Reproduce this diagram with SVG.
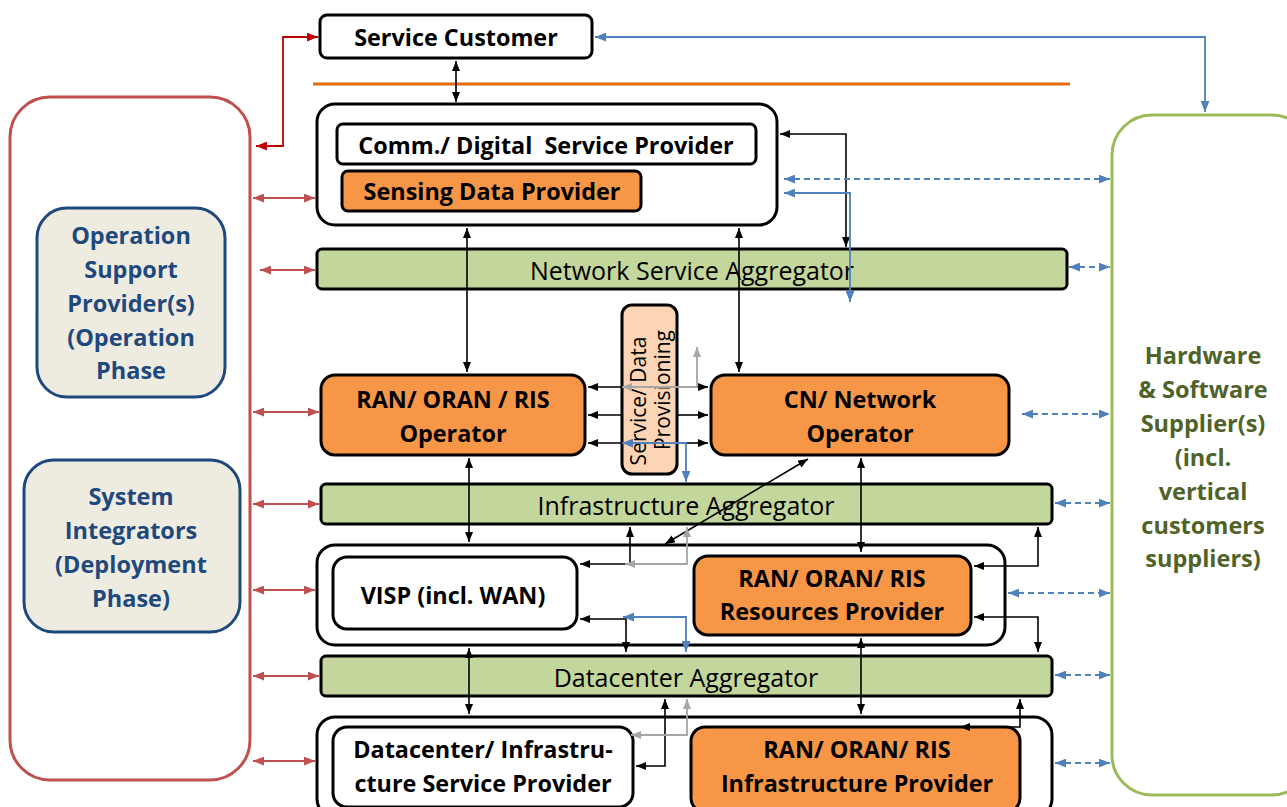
<svg xmlns="http://www.w3.org/2000/svg" width="1287" height="807" viewBox="0 0 1287 807">
  <defs>
    <marker id="ah-black" viewBox="0 0 10 8" refX="10" refY="4" markerWidth="10" markerHeight="8" markerUnits="userSpaceOnUse" orient="auto-start-reverse">
      <path d="M0,0 L10,4 L0,8 z" fill="#000"/>
    </marker>
    <marker id="ah-grey" viewBox="0 0 10 8" refX="10" refY="4" markerWidth="10" markerHeight="8" markerUnits="userSpaceOnUse" orient="auto-start-reverse">
      <path d="M0,0 L10,4 L0,8 z" fill="#A6A6A6"/>
    </marker>
    <marker id="ah-blue" viewBox="0 0 10 8" refX="10" refY="4" markerWidth="11" markerHeight="9" markerUnits="userSpaceOnUse" orient="auto-start-reverse">
      <path d="M0,0 L10,4 L0,8 z" fill="#4F81BD"/>
    </marker>
    <marker id="ah-red" viewBox="0 0 10 8" refX="10" refY="4" markerWidth="11" markerHeight="9" markerUnits="userSpaceOnUse" orient="auto-start-reverse">
      <path d="M0,0 L10,4 L0,8 z" fill="#C0504D"/>
    </marker>
    <marker id="ah-dred" viewBox="0 0 10 8" refX="10" refY="4" markerWidth="11" markerHeight="9" markerUnits="userSpaceOnUse" orient="auto-start-reverse">
      <path d="M0,0 L10,4 L0,8 z" fill="#C00000"/>
    </marker>
  </defs>
  <style>
    .box { stroke: #000; stroke-width: 3; }
    .white { fill: #fff; }
    .orange { fill: #F79646; }
    .agg { fill: #C3D69B; }
    .prov { fill: #FBD5B5; }
    .lbl { font-family: "Open Sans", Lato, sans-serif; font-weight: 700; font-size: 23.4px; fill: #000; text-anchor: middle; dominant-baseline: central; }
    .reg { font-family: "Open Sans", sans-serif; font-weight: 400; font-size: 25px; fill: #000; text-anchor: middle; dominant-baseline: central; }
    .side { font-family: "Open Sans", Lato, sans-serif; font-weight: 700; font-size: 23.5px; text-anchor: middle; dominant-baseline: central; }
    .vert { font-family: "Open Sans", sans-serif; font-weight: 400; font-size: 21px; fill: #000; text-anchor: middle; }
    .c-black { fill: none; stroke: #000; stroke-width: 1.6; marker-start: url(#ah-black); marker-end: url(#ah-black); }
    .c-grey { fill: none; stroke: #A6A6A6; stroke-width: 1.8; marker-start: url(#ah-grey); marker-end: url(#ah-grey); }
    .c-blue { fill: none; stroke: #4F81BD; stroke-width: 1.8; marker-start: url(#ah-blue); marker-end: url(#ah-blue); }
    .c-dash { fill: none; stroke: #4F81BD; stroke-width: 1.8; stroke-dasharray: 6 4; marker-start: url(#ah-blue); marker-end: url(#ah-blue); }
    .c-red { fill: none; stroke: #C0504D; stroke-width: 1.8; marker-start: url(#ah-red); marker-end: url(#ah-red); }
  </style>

  <rect width="1287" height="807" fill="#fff"/>

  <!-- outer stakeholder frames -->
  <g id="support-frame">
    <rect x="10" y="97" width="240" height="683" rx="40" fill="#fff" stroke="#C0504D" stroke-width="3"/>
  </g>
  <g id="operation-support">
    <rect x="37" y="208" width="188" height="189" rx="30" fill="#EEECE1" stroke="#1F497D" stroke-width="3"/>
    <text class="side" fill="#1F497D" x="131" y="235">Operation</text>
    <text class="side" fill="#1F497D" x="131" y="269">Support</text>
    <text class="side" fill="#1F497D" x="131" y="303">Provider(s)</text>
    <text class="side" fill="#1F497D" x="131" y="337">(Operation</text>
    <text class="side" fill="#1F497D" x="131" y="370">Phase</text>
  </g>
  <g id="system-integrators">
    <rect x="24" y="460" width="216" height="172" rx="30" fill="#EEECE1" stroke="#1F497D" stroke-width="3"/>
    <text class="side" fill="#1F497D" x="131" y="496">System</text>
    <text class="side" fill="#1F497D" x="131" y="530">Integrators</text>
    <text class="side" fill="#1F497D" x="131" y="564">(Deployment</text>
    <text class="side" fill="#1F497D" x="131" y="598">Phase)</text>
  </g>
  <g id="hw-sw-suppliers">
    <rect x="1112" y="115" width="200" height="680" rx="40" fill="#fff" stroke="#9BBB59" stroke-width="3"/>
    <text class="side" fill="#4F6228" x="1203" y="355">Hardware</text>
    <text class="side" fill="#4F6228" x="1203" y="389">&amp; Software</text>
    <text class="side" fill="#4F6228" x="1203" y="423">Supplier(s)</text>
    <text class="side" fill="#4F6228" x="1203" y="457">(incl.</text>
    <text class="side" fill="#4F6228" x="1203" y="491">vertical</text>
    <text class="side" fill="#4F6228" x="1203" y="525">customers</text>
    <text class="side" fill="#4F6228" x="1203" y="558">suppliers)</text>
  </g>

  <!-- customer on top, separated by the orange rule -->
  <g id="service-customer">
    <rect class="box white" x="320" y="15" width="272" height="43" rx="7"/>
    <text class="lbl" x="456" y="37">Service Customer</text>
  </g>
  <g id="separator">
    <line x1="313" y1="84" x2="1070" y2="84" stroke="#E46C0A" stroke-width="3"/>
  </g>

  <!-- service provider layer -->
  <g id="service-provider-layer">
    <rect class="box white" x="317" y="104" width="460" height="121" rx="18"/>
  </g>
  <g id="comm-digital-sp">
    <rect class="box white" x="337" y="124" width="419" height="40" rx="6"/>
    <text class="lbl" x="546" y="145" xml:space="preserve">Comm./ Digital  Service Provider</text>
  </g>
  <g id="sensing-data-provider">
    <rect class="box orange" x="342" y="171" width="299" height="40" rx="6"/>
    <text class="lbl" x="492" y="191">Sensing Data Provider</text>
  </g>

  <g id="network-service-aggregator">
    <rect class="box agg" x="317" y="249" width="750" height="40" rx="5"/>
    <text class="reg" x="692" y="270">Network Service Aggregator</text>
  </g>

  <g id="ran-operator">
    <rect class="box orange" x="321" y="375" width="264" height="80" rx="14"/>
    <text class="lbl" x="453" y="399">RAN/ ORAN / RIS</text>
    <text class="lbl" x="453" y="433">Operator</text>
  </g>
  <g id="cn-operator">
    <rect class="box orange" x="711" y="375" width="298" height="80" rx="14"/>
    <text class="lbl" x="860" y="399">CN/ Network</text>
    <text class="lbl" x="860" y="433">Operator</text>
  </g>

  <g id="infrastructure-aggregator">
    <rect class="box agg" x="321" y="484" width="731" height="40" rx="5"/>
    <text class="reg" x="686" y="505">Infrastructure Aggregator</text>
  </g>

  <g id="resources-layer">
    <rect class="box white" x="317" y="545" width="688" height="100" rx="18"/>
  </g>
  <g id="visp">
    <rect class="box white" x="333" y="557" width="244" height="72" rx="14"/>
    <text class="lbl" x="453" y="595">VISP (incl. WAN)</text>
  </g>
  <g id="ran-resources-provider">
    <rect class="box orange" x="694" y="556" width="277" height="79" rx="14"/>
    <text class="lbl" x="832" y="578">RAN/ ORAN/ RIS</text>
    <text class="lbl" x="832" y="611">Resources Provider</text>
  </g>

  <g id="datacenter-aggregator">
    <rect class="box agg" x="321" y="656" width="731" height="40" rx="5"/>
    <text class="reg" x="686" y="677">Datacenter Aggregator</text>
  </g>

  <g id="infrastructure-layer">
    <rect class="box white" x="317" y="717" width="735" height="100" rx="18"/>
  </g>
  <g id="datacenter-infra-sp">
    <rect class="box white" x="333" y="727" width="300" height="80" rx="14"/>
    <text class="lbl" x="483" y="749">Datacenter/ Infrastru-</text>
    <text class="lbl" x="483" y="783">cture Service Provider</text>
  </g>
  <g id="ran-infrastructure-provider">
    <rect class="box orange" x="691" y="727" width="329" height="85" rx="14"/>
    <text class="lbl" x="857" y="749">RAN/ ORAN/ RIS</text>
    <text class="lbl" x="857" y="783">Infrastructure Provider</text>
  </g>

  <g id="service-data-provisioning">
    <rect class="box prov" x="622" y="305" width="55" height="169" rx="10"/>
    <text class="vert" transform="translate(646,401) rotate(-90)">Service/ Data</text>
    <text class="vert" transform="translate(670,390) rotate(-90)">Provisioning</text>
  </g>

  <g id="connectors">
    <!-- customer links -->
    <path class="c-black" d="M456,61 V102"/>
    <path fill="none" stroke="#C00000" stroke-width="1.8" marker-start="url(#ah-dred)" marker-end="url(#ah-dred)" d="M256,146 H283 V37 H318"/>
    <path class="c-blue" d="M595,37 H1205 V112"/>

    <!-- provider layer to aggregator and operators -->
    <path class="c-black" d="M780,134 H846 V247"/>
    <path class="c-blue" d="M784,193 H850 V302"/>
    <path class="c-black" d="M467,228 V372"/>
    <path class="c-black" d="M739,228 V372"/>

    <!-- operator to operator via provisioning -->
    <path fill="none" stroke="#000" stroke-width="1.6" marker-start="url(#ah-black)" d="M588,387 H622"/>
    <path fill="none" stroke="#000" stroke-width="1.6" marker-end="url(#ah-black)" d="M677,387 H708"/>
    <path fill="none" stroke="#000" stroke-width="1.6" marker-start="url(#ah-black)" d="M588,415 H622"/>
    <path fill="none" stroke="#000" stroke-width="1.6" marker-end="url(#ah-black)" d="M677,415 H708"/>
    <path fill="none" stroke="#000" stroke-width="1.6" marker-start="url(#ah-black)" d="M588,443 H622"/>
    <path fill="none" stroke="#000" stroke-width="1.6" marker-end="url(#ah-black)" d="M677,443 H708"/>
    <path class="c-grey" d="M697,347 V387 H622"/>
    <path class="c-blue" d="M622,443 H686 V482"/>

    <!-- operators down to resources -->
    <path class="c-black" d="M469,458 V542"/>
    <path class="c-black" d="M861,458 V552"/>
    <path class="c-black" d="M808,459 L665,544"/>
    <path class="c-black" d="M630,527 V564 H580"/>
    <path class="c-grey" d="M687,527 V564 H625"/>
    <path class="c-black" d="M1038,527 V566 H974"/>
    <path class="c-black" d="M974,617 H1038 V652"/>
    <path class="c-black" d="M580,619 H626 V652"/>
    <path class="c-blue" d="M623,617 H686 V652"/>

    <!-- resources down to infrastructure -->
    <path class="c-black" d="M469,648 V714"/>
    <path class="c-black" d="M861,638 V714"/>
    <path class="c-black" d="M665,699 V766 H636"/>
    <path class="c-grey" d="M687,699 V735 H631"/>
    <path class="c-black" d="M1020,699 V727 H960"/>

    <!-- supplier links -->
    <path class="c-dash" d="M784,179 H1110"/>
    <path class="c-dash" d="M1069,267 H1110"/>
    <path class="c-dash" d="M1022,414 H1110"/>
    <path class="c-dash" d="M1055,503 H1110"/>
    <path class="c-dash" d="M1008,593 H1110"/>
    <path class="c-dash" d="M1055,675 H1110"/>
    <path class="c-dash" d="M1055,763 H1110"/>

    <!-- support / integrator links -->
    <path class="c-red" d="M253,198 H315"/>
    <path class="c-red" d="M260,270 H315"/>
    <path class="c-red" d="M253,412 H319"/>
    <path class="c-red" d="M253,504 H319"/>
    <path class="c-red" d="M253,590 H315"/>
    <path class="c-red" d="M253,676 H319"/>
    <path class="c-red" d="M253,761 H315"/>
  </g>
</svg>
